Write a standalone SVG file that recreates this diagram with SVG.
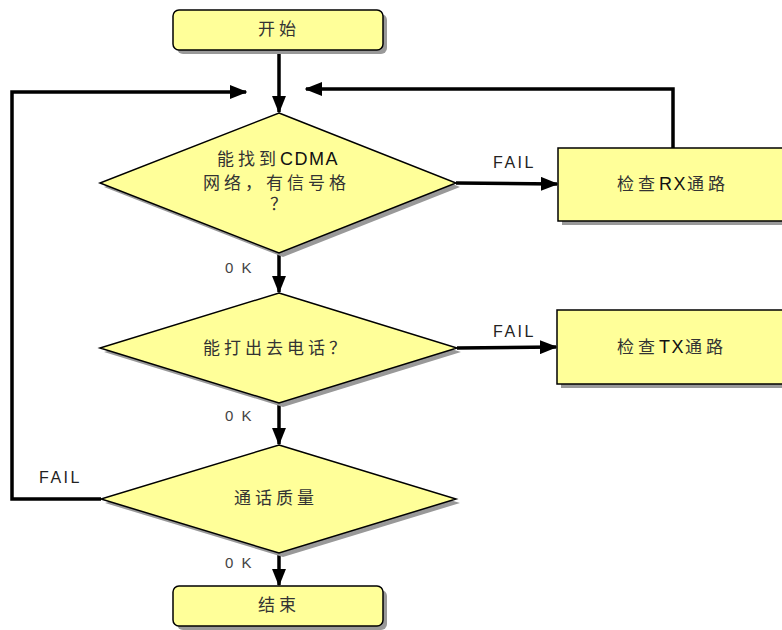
<svg xmlns="http://www.w3.org/2000/svg" width="782" height="630" viewBox="0 0 782 630">
<defs>
<style>
.shape{fill:#FFFF99;stroke:#000;stroke-width:1.5}
.shadow{fill:#999;stroke:none}
.cjk{font-family:"Liberation Sans","Noto Sans CJK SC",sans-serif;font-size:17px;fill:#333;letter-spacing:4px}
.lat{font-size:18px;letter-spacing:1.5px;fill:#111}
.lbl{font-family:"Liberation Sans","DejaVu Sans",sans-serif;font-size:16px;fill:#222;letter-spacing:2.5px}
.ok{font-family:"Liberation Sans","DejaVu Sans",sans-serif;font-size:15px;fill:#444;letter-spacing:2px}
.line{fill:none;stroke:#000;stroke-width:3.5}
</style>
<marker id="arr" markerWidth="5" markerHeight="4" refX="4.6" refY="2" orient="auto" markerUnits="strokeWidth">
<path d="M0,0 L5,2 L0,4 Z" fill="#000"/>
</marker>
</defs>

<g id="connectors">
<line class="line" x1="279" y1="50" x2="279" y2="112" marker-end="url(#arr)"/>
<line class="line" x1="279" y1="253" x2="279" y2="292" marker-end="url(#arr)"/>
<line class="line" x1="279" y1="403" x2="279" y2="444" marker-end="url(#arr)"/>
<line class="line" x1="279" y1="553" x2="279" y2="585" marker-end="url(#arr)"/>
<line class="line" x1="456" y1="183" x2="557" y2="184" marker-end="url(#arr)"/>
<line class="line" x1="457" y1="348" x2="556" y2="347" marker-end="url(#arr)"/>
<polyline class="line" points="673,148 673,89 306,89" marker-end="url(#arr)"/>
<polyline class="line" points="101,499 12,499 12,92 246,92" marker-end="url(#arr)"/>
<text class="lbl" x="493" y="168">FAIL</text>
<text class="lbl" x="493" y="337">FAIL</text>
<text class="lbl" x="39" y="483">FAIL</text>
<text class="ok" x="225" y="273">0 K</text>
<text class="ok" x="225" y="421">0 K</text>
<text class="ok" x="225" y="568">0 K</text>
</g>

<g id="start">
<rect class="shadow" x="177" y="14" width="210" height="40" rx="6"/>
<rect class="shape" x="173" y="10" width="210" height="40" rx="6"/>
<text class="cjk" x="258" y="35">开始</text>
</g>

<g id="decision1">
<polygon class="shadow" points="283,117 460,187 283,257 104,187"/>
<polygon class="shape" points="279,113 456,183 279,253 100,183"/>
<text class="cjk" x="217" y="165">能找到<tspan class="lat">CDMA</tspan></text>
<text class="cjk" x="203" y="189">网络，有信号格</text>
<text class="cjk" x="270" y="210">？</text>
</g>

<g id="checkRX">
<rect class="shadow" x="562" y="152" width="230" height="73"/>
<rect class="shape" x="558" y="148" width="230" height="73"/>
<text class="cjk" x="617" y="190">检查<tspan class="lat">RX</tspan>通路</text>
</g>

<g id="decision2">
<polygon class="shadow" points="283,297 461,352 283,407 104,352"/>
<polygon class="shape" points="279,293 457,348 279,403 100,348"/>
<text class="cjk" x="203" y="354">能打出去电话？</text>
</g>

<g id="checkTX">
<rect class="shadow" x="561" y="314" width="230" height="74"/>
<rect class="shape" x="557" y="310" width="230" height="74"/>
<text class="cjk" x="617" y="353">检查<tspan class="lat">TX</tspan>通路</text>
</g>

<g id="decision3">
<polygon class="shadow" points="283,449 460,503 283,557 105,503"/>
<polygon class="shape" points="279,445 456,499 279,553 101,499"/>
<text class="cjk" x="234" y="504">通话质量</text>
</g>

<g id="end">
<rect class="shadow" x="177" y="590" width="210" height="40" rx="6"/>
<rect class="shape" x="173" y="586" width="210" height="40" rx="6"/>
<text class="cjk" x="258" y="611">结束</text>
</g>
</svg>
